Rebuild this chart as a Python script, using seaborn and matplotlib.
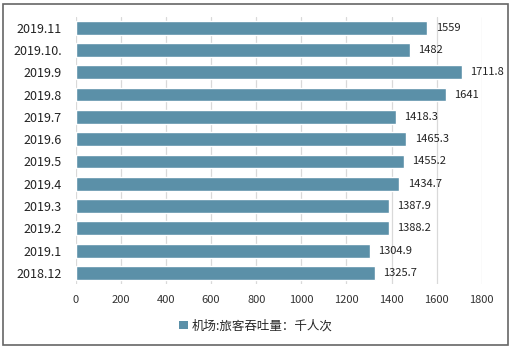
import matplotlib
matplotlib.use("Agg")
import matplotlib.pyplot as plt
from matplotlib.patches import Patch
import pandas as pd
import seaborn as sns

months = ["2019.11", "2019.10.", "2019.9", "2019.8", "2019.7", "2019.6",
          "2019.5", "2019.4", "2019.3", "2019.2", "2019.1", "2018.12"]
passengers = [1559, 1482, 1711.8, 1641, 1418.3, 1465.3,
              1455.2, 1434.7, 1387.9, 1388.2, 1304.9, 1325.7]
value_labels = ["1559", "1482", "1711.8", "1641", "1418.3", "1465.3",
                "1455.2", "1434.7", "1387.9", "1388.2", "1304.9", "1325.7"]
xticks = [0, 200, 400, 600, 800, 1000, 1200, 1400, 1600, 1800]
series_name = "机场:旅客吞吐量：千人次"

df = pd.DataFrame({"month": months, "value": passengers})

sns.set_theme(style="white")
plt.rcParams["font.family"] = ["Noto Sans CJK SC", "DejaVu Sans"]

bar_color = "#5B90A8"

fig = plt.figure(figsize=(5.12, 3.52), dpi=100)
ax = fig.add_axes([0.148, 0.193, 0.793, 0.76])

sns.barplot(data=df, x="value", y="month", order=months, color=bar_color,
            width=0.62, saturation=1, ax=ax)

ax.bar_label(ax.containers[0], labels=value_labels, padding=6, fontsize=8,
             color="#222222")

ax.set_xlim(0, 1800)
ax.set_xticks(xticks)
ax.set_xticklabels([str(t) for t in xticks], fontsize=8, color="#333333")
ax.tick_params(axis="y", labelsize=9, colors="#222222", length=0, pad=10)
ax.tick_params(axis="x", length=0, pad=8)
ax.set_xlabel("")
ax.set_ylabel("")
ax.xaxis.grid(True, color="#d9d9d9", linewidth=0.9)
ax.set_axisbelow(True)
for s in ax.spines.values():
    s.set_visible(False)

handle = Patch(facecolor=bar_color, edgecolor="none")
fig.legend([handle], [series_name], loc="center", bbox_to_anchor=(0.5, 0.074),
           frameon=False, fontsize=9, handlelength=0.7, handleheight=0.7,
           handletextpad=0.3)

border = plt.Rectangle((0.006, 0.02), 0.986, 0.97, transform=fig.transFigure,
                       fill=False, edgecolor="#666666", linewidth=1.2)
fig.add_artist(border)

fig.savefig("out.png", dpi=100)
